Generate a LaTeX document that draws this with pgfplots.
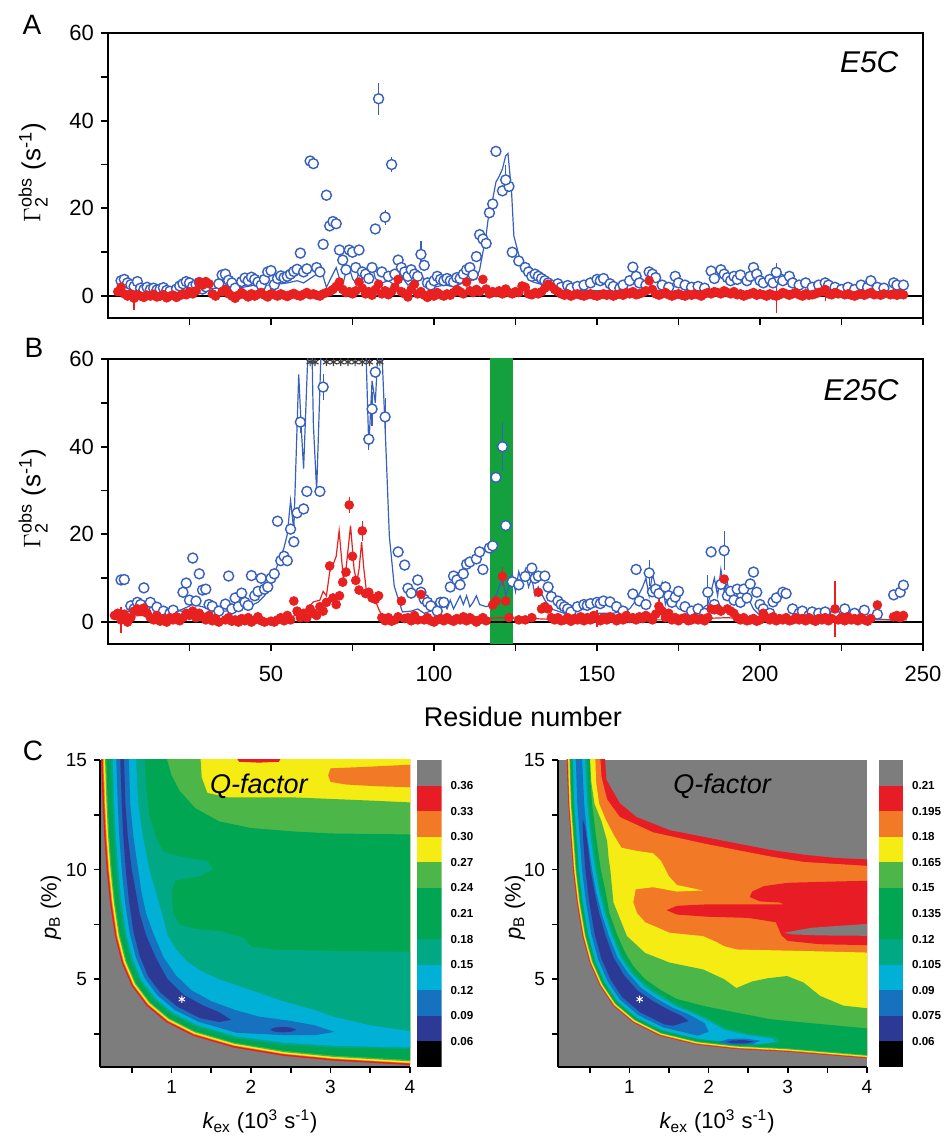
\documentclass[border=0pt]{standalone}
\usepackage{pgfplots}
\pgfplotsset{compat=1.18}
\usepackage{fontspec}
\setmainfont{Liberation Sans}

\definecolor{qgray}{RGB}{125,125,125}
\definecolor{qred}{RGB}{232,28,36}
\definecolor{qorange}{RGB}{242,122,38}
\definecolor{qyellow}{RGB}{245,236,20}
\definecolor{qlgreen}{RGB}{76,183,72}
\definecolor{qgreen}{RGB}{0,166,81}
\definecolor{qteal}{RGB}{0,168,132}
\definecolor{qcyan}{RGB}{0,176,214}
\definecolor{qblue}{RGB}{22,113,190}
\definecolor{qdblue}{RGB}{44,58,150}
\definecolor{ptblue}{RGB}{55,95,190}
\definecolor{ptred}{RGB}{232,32,32}
\definecolor{bandgreen}{RGB}{20,160,60}

\pgfplotsset{
  panel/.style={scale only axis, width=407.5pt, height=142.5pt,
    xmin=0, xmax=250, ymin=-5, ymax=60,
    xtick={25,50,...,250}, ytick={0,10,...,60}, yticklabels={0,,20,,40,,60},
    xtick pos=bottom, ytick pos=left, tick align=outside, major tick length=3.5pt,
    tick style={black, line width=0.9pt}, axis line style={line width=1pt},
    tick label style={font=\fontsize{11}{11}\selectfont},
    ylabel={$\Gamma_{\mbox{\fontsize{9}{9}\selectfont 2}}^{\mbox{\fontsize{9}{9}\selectfont obs}}$ (s\textsuperscript{-1})},
    ylabel style={font=\fontsize{13}{13}\selectfont, at={(axis description cs:-0.092,0.51)}, anchor=center},
  },
  bcirc/.style={only marks, mark=*, mark size=2.5pt, mark options={draw=ptblue, fill=white, line width=0.7pt}},
  rdot/.style={only marks, mark=*, mark size=2.2pt, mark options={draw=ptred, fill=ptred}},
  cstyle/.style={scale only axis, height=153.5pt,
    xmin=0.1, xmax=4, ymin=1, ymax=15, axis lines*=left,
    xtick={0.5,1,1.5,2,2.5,3,3.5,4}, xticklabels={,1,,2,,3,,4},
    ytick={2.5,5,7.5,10,12.5,15}, yticklabels={,5,,10,,15},
    tick align=outside, major tick length=3pt,
    tick style={black, line width=0.8pt}, axis line style={line width=1pt},
    tick label style={font=\fontsize{9.5}{9.5}\selectfont},
    axis background/.style={fill=qgray},
    xlabel={{\itshape k}\textsubscript{ex} (10\textsuperscript{3} s\textsuperscript{-1})},
    ylabel={{\itshape p}\textsubscript{B} (\%)},
    label style={font=\fontsize{11}{11}\selectfont},
  },
  cbar/.style={scale only axis, height=153.5pt, xmin=0, xmax=1, ymin=0, ymax=12,
    axis line style={draw=none}, xtick=\empty, ytick={1,...,11},
    yticklabel pos=right, major tick length=0pt, tick style={draw=none},
    yticklabel style={font=\fontsize{5.8}{6}\selectfont\bfseries, anchor=west, xshift=1pt},
  },
  reg/.style={draw=none, fill=#1},
}

\begin{document}
\begin{tikzpicture}
\useasboundingbox (0pt,0pt) rectangle (472.5pt,569pt);
\node[font=\fontsize{14}{14}\selectfont] at (16pt,556.5pt) {A};
\node[font=\fontsize{14}{14}\selectfont] at (17pt,395pt) {B};
\node[font=\fontsize{14}{14}\selectfont] at (16.5pt,193.5pt) {C};

% ---------------- panel A
\begin{axis}[panel, at={(54pt,410pt)}, anchor=south west, xticklabels={,,}]
\addplot[black, line width=0.8pt] coordinates {(0,0) (250,0)};
\addplot[ptblue, line width=0.6pt] coordinates {
(3,1.5) (5,2.0) (8,1.5) (10,1.0) (15,0.8) (20,1.0) (25,1.5) (30,1.5) (35,2.0) (40,1.8)
(45,2.5) (50,2.5) (55,3.0) (58,3.5) (60,3.0) (62,4.0) (64,5.0) (65,6.0) (66,4.5) (67,2.0)
(68,3.5) (70,6.5) (71,4.0) (72,2.5) (73,5.5) (74,6.5) (75,4.0) (76,3.0) (77,5.5) (78,4.0)
(80,6.5) (81,7.0) (82,4.0) (84,3.0) (86,3.5) (88,2.5) (90,4.5) (92,2.5) (94,3.5) (96,5.0)
(98,2.5) (100,2.0) (103,2.5) (106,2.2) (109,3.0) (111,3.5) (113,3.9) (114,6.0) (115,10.0)
(116,14.0) (117,19.8) (118,22.0) (119,26.0) (120,27.3) (121,29.0) (122,32.0) (122.7,32.5)
(123.8,23.6) (124.5,13.7) (125.8,10.0) (127.4,5.4) (130.4,3.2) (134.6,2.3) (140,1.5)
(150,1.2) (160,1.5) (170,1.0) (180,1.0) (190,1.2) (200,1.0) (210,0.8) (220,0.8) (230,0.6) (245,0.5)};
\addplot[bcirc] coordinates {
(4,3.5) (5,3.8) (6,3.0) (7,2.6) (8,2.2) (9,3.3) (10,1.8) (11,1.5) (12,2.0) (13,1.5)
(14,1.8) (15,1.4) (16,1.6) (17,1.9) (18,1.3) (19,1.1) (21,1.6) (22,2.3) (23,2.8) (24,3.3)
(25,3.0) (26,2.2) (27,2.6) (28,3.1) (29,1.6) (30,2.1) (34,2.8) (35,4.8) (36,5.0) (37,3.6)
(38,3.0) (39,1.8) (41,3.3) (42,4.1) (43,3.5) (44,4.3) (45,3.8) (46,3.2) (47,2.5) (48,3.8)
(49,5.5) (50,5.8) (51,2.6) (52,4.0) (53,4.6) (54,4.2) (55,4.5) (56,5.0) (57,5.6) (58,6.1)
(59,9.8) (60,5.5) (61,6.2) (62,30.8) (63,30.2) (64,6.5) (65,5.5) (66,11.8) (67,23.0) (68,16.0)
(69,17.0) (70,16.5) (71,10.5) (72,8.2) (73,6.0) (74,10.5) (75,10.0) (76,6.5) (77,10.5) (78,5.5)
(79,5.0) (80,4.0) (81,6.5) (82,15.3) (84,5.5) (86,4.5) (88,5.0) (89,8.2)
(90,6.5) (91,5.5) (92,4.5) (93,6.0) (94,5.0) (95,4.5) (97,7.0) (98,3.0) (99,2.5)
(100,3.5) (101,4.5) (102,3.8) (103,3.5) (104,4.0) (105,3.5) (106,3.2) (107,4.2) (108,4.0) (109,5.0)
(110,6.0) (111,6.5) (112,4.8) (113,9.0) (114,14.0) (115,13.0) (116,12.0) (117,19.0) (118,21.0) (119,33.0)
(121,24.0) (123,25.0) (124,10.0) (126,8.0) (128,6.5) (129,5.5) (130,4.5) (131,5.0) (132,4.5)
(133,4.0) (134,3.5) (135,3.0) (136,2.5) (138,2.8) (139,2.0) (141,2.4) (142,1.8) (144,2.2) (146,2.5)
(148,3.0) (150,3.8) (151,3.5) (152,4.0) (154,2.8) (155,2.2) (157,1.8) (158,2.5) (160,3.5) (161,6.6)
(162,4.5) (163,3.0) (165,2.5) (166,5.5) (167,5.0) (168,4.2) (170,2.5) (172,2.0) (174,4.5) (175,3.0)
(177,2.5) (179,2.0) (181,2.2) (183,1.8) (185,5.7) (186,4.0) (188,6.0) (189,5.0) (190,4.2) (191,3.5)
(192,4.5) (193,3.8) (194,4.8) (196,3.5) (197,4.5) (198,6.5) (199,5.0) (200,3.5) (201,3.0) (203,3.8)
(204,3.0) (206,4.0) (207,3.5) (209,4.5) (210,3.0) (212,2.5) (214,3.0) (216,2.0) (218,2.5)
(220,3.0) (221,2.5) (223,2.0) (225,1.5) (227,2.0) (229,1.5) (231,2.5) (233,2.0) (234,3.5) (236,2.0)
(238,1.8) (241,3.0) (242,2.5) (244,2.5)};
\addplot[bcirc, error bars/.cd, y dir=both, y explicit,
  error bar style={ptblue, line width=0.6pt}, error mark options={ptblue, mark size=2pt, line width=0.6pt}]
  coordinates {(83,45.0) +- (0,2.7) (85,18.0) +- (0,0.8) (87,30.0) +- (0,0.8) (96,9.5) +- (0,2.2)
  (122,26.5) +- (0,2.5) (205,5.4) +- (0,1.2)};
\addplot[rdot] coordinates {
(3,1.0) (4,2.0) (5,0.5) (6,0.0) (7,0.5) (9,0.3) (10,0.0) (11,-0.3) (12,0.2)
(13,0.0) (14,0.4) (15,-0.2) (16,0.0) (17,0.3) (18,-0.4) (19,0.0) (20,0.2) (21,-0.3) (22,0.1)
(23,0.5) (24,0.3) (25,1.0) (26,0.5) (27,1.2) (28,3.2) (29,2.5) (30,3.3) (31,2.8) (32,0.5)
(33,0.0) (35,1.0) (36,1.5) (37,0.5) (38,0.0) (39,-0.5) (40,0.2) (41,0.8) (42,0.3) (43,-0.2)
(44,0.5) (45,0.0) (46,0.4) (47,0.8) (48,0.2) (49,-0.2) (50,0.5) (51,0.3) (52,0.0) (53,0.5)
(54,0.2) (55,-0.1) (56,0.3) (57,0.6) (58,0.2) (59,0.0) (60,0.4) (61,0.8) (62,0.3) (63,0.5)
(64,0.2) (65,0.0) (66,0.5) (67,0.8) (68,1.0) (69,1.5) (70,2.2) (71,3.2) (72,1.5) (73,0.8)
(74,1.0) (75,0.5) (76,1.2) (77,3.2) (78,1.8) (79,0.5) (80,1.0) (81,0.2) (82,1.5) (83,2.7)
(84,0.5) (85,1.2) (86,0.3) (87,1.0) (88,2.0) (90,1.0) (91,0.5) (92,-0.2) (93,1.5)
(94,2.7) (95,0.5) (96,1.0) (97,0.2) (98,-0.3) (99,0.5) (100,0.0) (101,0.8) (102,0.3) (103,0.0)
(104,0.5) (105,0.2) (106,0.8) (107,1.5) (108,1.0) (109,0.5) (110,3.2) (111,1.2) (112,0.8) (113,1.5)
(114,1.0) (115,3.8) (116,1.6) (117,0.5) (118,1.0) (119,0.8) (120,1.2) (121,0.5) (122,1.6) (123,0.8)
(124,0.5) (125,1.0) (126,0.8) (127,2.3) (128,2.0) (129,0.5) (130,0.3) (131,0.8) (132,0.5) (133,1.0)
(134,1.8) (135,2.7) (136,2.2) (137,1.5) (138,1.0) (139,0.5) (140,0.2) (141,0.5) (142,0.0) (143,0.3)
(144,0.5) (145,0.2) (146,0.0) (147,0.3) (148,0.5) (149,0.2) (150,0.0) (151,0.3) (152,0.5) (153,0.2)
(154,0.4) (155,0.0) (156,0.3) (157,0.5) (158,0.2) (159,0.8) (160,0.5) (161,1.0) (162,0.3) (163,0.5)
(164,0.8) (165,1.2) (167,1.5) (168,0.5) (169,0.2) (170,0.5) (171,0.8) (172,0.3) (173,0.0)
(174,0.3) (175,0.5) (176,0.2) (177,0.0) (178,0.4) (179,0.2) (180,0.5) (181,0.3) (182,0.0) (183,0.5)
(184,0.8) (185,0.5) (186,1.0) (187,0.8) (188,0.5) (189,1.2) (190,0.8) (191,0.5) (192,1.0) (193,0.3)
(194,0.5) (195,0.0) (196,0.3) (197,0.5) (198,0.8) (199,0.2) (200,0.5) (201,0.3) (202,0.0) (203,0.5)
(204,0.2) (206,0.3) (207,0.8) (208,0.5) (209,0.2) (210,0.5) (211,0.8) (212,0.3) (213,0.0)
(214,0.5) (215,0.2) (216,0.3) (217,0.5) (218,0.8) (219,1.0) (221,0.5) (222,0.3) (223,0.8)
(224,0.5) (226,0.3) (227,0.5) (228,0.2) (229,0.0) (230,0.3) (231,0.5) (232,0.2) (233,0.5) (234,0.8)
(235,0.3) (237,0.2) (238,0.5) (240,0.3) (241,0.5) (242,0.2) (243,0.5) (244,0.3)};
\addplot[rdot, error bars/.cd, y dir=both, y explicit,
  error bar style={ptred, line width=0.6pt}, error mark options={ptred, mark size=2pt, line width=0.6pt}]
  coordinates {(8,-0.5) +- (0,1.8) (89,3.8) +- (0,1.0) (166,3.5) +- (0,1.3) (205,0.0) +- (0,3.0) (220,1.5) +- (0,1.8)};
\node[font=\fontsize{15}{15}\selectfont\itshape] at (axis cs:233.5,53.4) {E5C};
\end{axis}

% ---------------- panel B
\begin{axis}[panel, at={(54pt,247pt)}, anchor=south west,
  xticklabels={,50,,100,,150,,200,,250},
  xticklabel style={yshift=-4pt},
  xlabel={Residue number},
  xlabel style={font=\fontsize{13.5}{13.5}\selectfont, at={(axis description cs:0.509,-0.257)}, anchor=center}]
\addplot[reg=bandgreen] coordinates {(117.2,-6) (124.2,-6) (124.2,61) (117.2,61)};
\addplot[black, line width=0.8pt] coordinates {(0,0) (250,0)};
\addplot[ptblue, line width=0.6pt] coordinates {
(3,1.5) (5,2.0) (8,3.0) (10,3.5) (13,2.5) (16,2.0) (20,2.0) (23,3.0) (26,4.0) (29,3.5)
(32,2.5) (36,2.5) (40,3.0) (43,3.5) (46,4.5) (48,6.0) (50,8.0) (51,11.0) (52,13.0) (53,14.8)
(54,17.0) (55,20.0) (56,27.7) (57,21.0) (58.5,56.5) (59.3,44.0) (60,35.0) (61.5,65.0) (62.5,65.0)
(63,45.0) (64,30.0) (65.5,65.0) (79,65.0) (80,40.0) (81,55.0) (82,50.0) (83,65.0) (84,62.0)
(85.3,38.8) (86.3,19.6) (87.8,8.2) (90.3,2.3) (93,2.5) (95,3.0) (97,2.0) (99,2.5) (101,3.5)
(102,2.5) (103,4.5) (104,3.0) (105,5.0) (106,3.0) (107,4.5) (108,6.0) (109,4.0) (110,6.0)
(111,3.5) (112,4.5) (113,6.0) (114,4.0) (116,3.5) (118,4.0) (119,6.0) (120,8.0) (121,10.0)
(122,6.0) (123,8.0) (124,11.0) (125,7.0) (126,11.5) (127,9.0) (128,12.0) (129,8.0) (130,10.0)
(131,6.0) (132,8.0) (134,5.0) (136,3.0) (140,2.0) (145,1.5) (150,2.0) (155,2.0) (160,3.0)
(162,5.0) (164,8.0) (165,10.0) (166,6.0) (167,11.0) (168,8.0) (169,7.0) (170,9.0) (171,4.0)
(172,6.0) (175,3.0) (180,2.0) (184,4.0) (186,10.0) (187,6.0) (188,12.0) (189,7.0) (190,9.0)
(191,5.0) (192,8.0) (194,4.0) (196,6.0) (198,3.0) (200,1.5) (205,1.0) (210,1.2) (220,0.8)
(230,1.0) (240,0.5) (245,0.5)};
\addplot[ptred, line width=0.6pt] coordinates {
(2,1.0) (10,1.5) (20,1.0) (30,1.0) (40,0.5) (50,0.5) (55,1.0) (60,2.0) (63,4.6) (65,5.0)
(66,7.0) (67,6.0) (68,11.4) (69,13.0) (70,15.0) (70.9,20.8) (72.2,9.8) (73,12.0) (74.4,22.0)
(75.5,12.0) (76.3,9.1) (77,12.0) (77.8,18.2) (78.5,12.0) (79.3,6.8) (80,6.5) (81,6.0) (82,5.0)
(83,3.0) (84,1.5) (86,1.0) (90,0.5) (100,0.5) (110,0.5) (120,1.0) (130,0.8) (140,0.5)
(150,0.5) (170,0.5) (190,1.0) (200,0.5) (220,0.5) (245,0.5)};
\addplot[bcirc] coordinates {
(4,9.6) (5,9.7) (7,3.7) (8,3.0) (9,4.5) (10,4.0) (11,7.8) (12,3.0) (13,4.5) (14,2.5)
(15,3.4) (17,2.5) (19,2.0) (20,2.7) (22,1.5) (23,6.8) (24,8.9) (25,5.0) (26,14.6) (27,4.8)
(28,11.0) (29,7.3) (30,7.5) (31,4.0) (32,3.6) (34,2.5) (36,4.1) (37,10.5) (38,3.0) (39,5.5)
(40,3.5) (41,6.6) (42,4.5) (43,3.8) (44,10.6) (45,6.0) (46,7.0) (47,10.0) (48,7.5) (49,8.0)
(50,10.0) (51,11.0) (52,23.0) (53,14.0) (54,15.0) (55,14.0) (56,21.2) (57,18.3) (58,24.9)
(60,25.8) (61,29.8) (65,29.8) (82,57.0) (89,16.0) (91,13.0) (92,7.7) (93,6.6) (95,9.6)
(96,6.8) (97,5.2) (98,4.5) (99,3.7) (101,2.5) (102,4.5) (103,4.5) (105,8.0) (106,10.5) (107,9.6)
(108,8.5) (109,11.0) (110,13.2) (111,13.7) (113,14.4) (114,16.0) (115,12.0) (117,16.9) (118,17.4) (119,33.0)
(122,22.0) (124,9.2) (126,8.5) (128,10.4) (130,12.3) (131,10.0) (132,10.5) (134,10.5) (135,8.0)
(136,5.8) (138,4.8) (139,4.0) (140,3.5) (141,3.0) (142,2.3) (144,3.5) (146,4.0) (147,3.8) (148,4.2)
(150,4.5) (151,4.2) (152,4.8) (154,4.6) (156,3.5) (158,2.5) (161,6.4) (162,12.0) (163,4.8) (165,4.0)
(167,6.9) (168,7.5) (169,6.5) (171,8.0) (172,6.0) (173,4.5) (174,5.7) (175,7.0) (177,3.5)
(179,2.5) (181,3.0) (183,2.0) (185,16.0) (186,4.0) (188,8.6) (190,6.0) (191,7.0) (192,5.0)
(193,7.5) (194,4.5) (195,7.5) (196,5.5) (197,8.7) (198,11.4) (199,6.8) (200,4.0) (201,3.0) (203,2.0)
(204,4.6) (205,5.5) (207,6.8) (208,6.5) (210,3.0) (212,2.0) (213,2.5) (215,1.5) (216,2.3) (218,2.0)
(220,2.3) (223,1.8) (226,3.0) (229,2.0) (232,2.7) (236,1.8) (241,6.2) (243,6.8) (244,8.4)};
\addplot[bcirc, error bars/.cd, y dir=both, y explicit,
  error bar style={ptblue, line width=0.6pt}, error mark options={ptblue, mark size=2pt, line width=0.6pt}]
  coordinates {(59,45.6) +- (0,1.5) (66,53.6) +- (0,2.0) (80,41.7) +- (0,1.5) (81,48.6) +- (0,3.0)
  (85,46.8) +- (0,3.5) (121,40.0) +- (0,4.7) (166,11.2) +- (0,2.0) (184,6.8) +- (0,3.0) (189,16.3) +- (0,3.5)};
\addplot[rdot] coordinates {
(2,1.5) (3,2.0) (5,1.8) (6,0.0) (7,1.0) (8,2.5) (9,3.0) (10,2.5) (11,3.2) (12,2.0)
(13,1.0) (14,0.5) (15,1.5) (16,0.2) (17,0.8) (18,0.0) (19,1.0) (20,0.5) (21,1.2) (22,0.3)
(23,1.0) (24,2.0) (25,1.5) (26,2.5) (27,1.0) (28,2.0) (29,1.2) (30,0.5) (31,1.5) (32,0.3)
(33,0.8) (34,0.0) (36,0.5) (37,1.0) (38,0.2) (39,0.5) (40,0.0) (41,0.8) (42,0.3) (43,1.0)
(44,0.0) (45,0.5) (46,1.2) (47,0.3) (48,0.0) (50,0.2) (51,0.0) (52,0.5) (53,1.0) (54,0.3)
(55,1.5) (56,0.5) (57,4.8) (58,2.5) (59,1.0) (60,2.0) (61,1.0) (62,3.0) (63,2.0) (64,1.5)
(65,3.5) (66,2.5) (67,4.5) (68,12.8) (69,5.5) (70,4.0) (71,6.0) (72,9.1) (73,11.4)
(75,15.0) (76,9.5) (77,7.3) (79,6.5) (80,6.8) (81,5.5) (82,5.2) (83,6.0) (84,1.0)
(85,0.3) (86,1.0) (87,0.2) (88,0.5) (89,1.2) (90,4.8) (91,0.8) (92,1.0) (93,0.3) (94,1.5)
(95,0.5) (96,6.3) (97,0.5) (98,1.0) (99,0.3) (100,0.0) (101,0.5) (102,0.8) (103,0.3) (104,1.0)
(105,0.5) (106,0.2) (107,0.8) (108,0.5) (109,1.2) (110,0.3) (111,1.0) (112,0.5) (113,0.0) (114,0.5)
(115,1.0) (116,0.3) (118,3.9) (119,4.8) (122,4.8) (123,1.0) (126,0.5) (128,0.5) (130,1.0)
(132,6.8) (133,3.0) (134,3.5) (135,3.0) (136,1.0) (137,0.5) (138,1.0) (139,0.3) (140,0.5) (141,1.0)
(142,0.2) (143,0.8) (144,0.5) (145,1.2) (146,0.3) (147,1.0) (148,0.5) (149,1.5) (151,0.3)
(152,1.0) (153,0.5) (154,1.2) (155,0.8) (156,0.3) (157,1.0) (158,0.5) (159,1.5) (160,0.8) (161,1.0)
(162,0.5) (163,1.2) (164,0.8) (165,1.5) (166,1.0) (167,0.5) (168,1.8) (170,2.5) (171,1.0)
(172,2.0) (173,0.5) (174,1.0) (175,0.3) (176,0.8) (177,1.0) (178,0.3) (179,0.5) (180,1.0) (181,0.5)
(182,0.8) (183,0.3) (184,1.0) (185,3.0) (186,2.8) (187,3.0) (188,2.5) (189,9.8) (190,3.0) (191,2.5)
(192,2.0) (193,1.0) (194,0.5) (195,1.0) (196,0.3) (197,0.5) (198,0.8) (199,0.2) (200,0.5) (201,2.0)
(202,1.0) (203,0.5) (204,1.2) (205,0.3) (206,0.8) (207,0.5) (208,1.0) (209,0.3) (210,0.5) (211,1.0)
(212,0.5) (213,0.8) (214,0.3) (215,1.0) (216,0.5) (217,0.2) (218,0.8) (219,0.5) (220,1.0) (221,0.3)
(222,0.8) (224,0.5) (225,1.0) (226,0.3) (227,1.2) (228,0.5) (229,0.8) (230,0.3) (231,1.0)
(232,0.5) (233,0.2) (234,0.8) (236,3.9) (241,1.2) (242,1.5) (243,1.0) (244,1.5)};
\addplot[rdot, error bars/.cd, y dir=both, y explicit,
  error bar style={ptred, line width=0.6pt}, error mark options={ptred, mark size=2pt, line width=0.6pt}]
  coordinates {(4,0.5) +- (0,2.0) (74,26.7) +- (0,1.0) (78,20.8) +- (0,1.3) (121,10.4) +- (0,1.3)
  (150,0.8) +- (0,1.0) (169,3.6) +- (0,1.0) (223,3.0) +- (0,5.5)};
\addplot[only marks, mark=asterisk, mark size=2pt, mark options={black!75, line width=0.6pt}] coordinates {
(62,59.3) (63.5,59.3) (67,59.3) (69.2,59.3) (71.4,59.3) (73.6,59.3) (75.8,59.3) (78,59.3) (80.2,59.3) (83.4,59.3)};
\node[font=\fontsize{15}{15}\selectfont\itshape] at (axis cs:231,52.9) {E25C};
\end{axis}

% ---------------- panel C, left map
\begin{axis}[cstyle, at={(50pt,35.5pt)}, anchor=south west, width=155pt,
  ylabel style={at={(axis description cs:-0.158,0.52)}, anchor=center},
  xlabel style={at={(axis description cs:0.516,-0.178)}, anchor=center}]
\addplot[reg=qred] coordinates {(0.112,15.3) (0.113,15.0) (0.134,13.03) (0.154,11.51) (0.184,10.0) (0.226,8.49) (0.289,6.97) (0.373,5.76) (0.499,4.70) (0.688,3.79) (0.940,3.03) (1.275,2.42) (1.778,1.89) (2.407,1.51) (3.036,1.29) (4.0,1.09) (4.1,1.07) (4.1,15.3)};
\addplot[reg=qorange] coordinates {(0.132,15.3) (0.153,13.03) (0.173,11.51) (0.203,10.0) (0.245,8.50) (0.307,6.98) (0.391,5.78) (0.515,4.73) (0.702,3.84) (0.950,3.09) (1.282,2.48) (1.782,1.96) (2.409,1.58) (3.037,1.36) (4.0,1.16) (4.1,1.15) (4.1,15.3)};
\addplot[reg=qyellow] coordinates {(0.142,15.3) (0.163,13.03) (0.183,11.51) (0.213,10.01) (0.255,8.50) (0.317,6.99) (0.401,5.79) (0.524,4.75) (0.709,3.86) (0.956,3.12) (1.285,2.52) (1.784,1.99) (2.411,1.61) (3.038,1.39) (4.0,1.19) (4.1,1.18) (4.1,15.3)};
\addplot[reg=qorange] coordinates {(2.97,14.3) (3.0,14.62) (3.4,14.68) (3.8,14.75) (4.1,14.8) (4.1,13.75) (3.6,13.8) (3.2,13.88) (3.0,14.0)};
\addplot[reg=qred] coordinates {(1.78,15.3) (2.41,15.3) (2.35,14.92) (2.1,14.88) (1.85,14.92)};
\addplot[reg=qlgreen] coordinates {(0.161,15.3) (0.182,13.03) (0.202,11.52) (0.232,10.01) (0.274,8.51) (0.336,7.0) (0.419,5.82) (0.540,4.79) (0.723,3.91) (0.966,3.18) (1.292,2.58) (1.789,2.06) (2.413,1.68) (3.039,1.46) (4.0,1.26) (4.1,1.25) (4.1,13.05) (3.5,13.15) (2.5,13.3) (1.7,13.3) (1.45,13.5) (1.38,14.2) (1.36,15.3)};
\addplot[reg=qgreen] coordinates {(0.176,15.3) (0.197,13.03) (0.217,11.52) (0.247,10.01) (0.289,8.51) (0.351,7.01) (0.433,5.83) (0.554,4.81) (0.734,3.95) (0.974,3.22) (1.297,2.63) (1.792,2.11) (2.415,1.74) (3.040,1.52) (4.0,1.32) (4.1,1.31) (4.1,11.6) (3.0,11.65) (2.5,11.75) (2.0,11.9) (1.6,12.2) (1.3,12.8) (1.1,13.6) (1.0,14.3) (0.92,15.3)};
\addplot[reg=qteal] coordinates {(0.233,15.3) (0.254,13.04) (0.274,11.52) (0.304,10.02) (0.345,8.53) (0.406,7.05) (0.487,5.90) (0.603,4.92) (0.774,4.09) (1.005,3.39) (1.317,2.83) (1.805,2.31) (2.425,2.0) (3.048,1.88) (4.01,1.82) (4.1,1.81) (4.1,6.25) (3.0,6.3) (2.3,6.35) (2.0,6.5) (1.9,6.9) (1.6,7.2) (1.3,7.3) (1.1,7.5) (1.02,8.0) (1.0,9.0) (1.05,9.5) (1.35,9.7) (1.52,10.0) (1.45,10.4) (1.1,10.6) (0.9,10.8) (0.8,11.5) (0.72,12.5) (0.68,13.8) (0.66,15.3)};
\addplot[reg=qcyan] coordinates {(0.258,15.3) (0.279,13.04) (0.299,11.53) (0.329,10.03) (0.370,8.54) (0.430,7.07) (0.511,5.93) (0.624,4.96) (0.793,4.15) (1.018,3.47) (1.326,2.91) (1.810,2.40) (2.428,2.10) (3.050,1.97) (4.01,1.89) (4.1,1.88) (4.1,2.58) (3.5,2.9) (3.03,3.3) (2.8,3.6) (2.4,4.0) (2.0,4.5) (1.6,5.0) (1.36,5.4) (1.2,5.8) (1.05,6.4) (0.95,7.0) (0.88,8.0) (0.80,9.0) (0.72,10.0) (0.64,11.5) (0.58,13.0) (0.55,15.3)};
\addplot[reg=qblue] coordinates {(0.302,15.3) (0.323,13.04) (0.343,11.53) (0.373,10.03) (0.414,8.56) (0.474,7.10) (0.553,5.98) (0.663,5.04) (0.825,4.26) (1.042,3.60) (1.341,3.06) (1.820,2.56) (2.44,2.45) (2.8,2.45) (3.05,2.6) (2.8,2.9) (2.5,3.1) (2.1,3.3) (1.8,3.6) (1.5,4.0) (1.25,4.5) (1.05,5.2) (0.9,6.0) (0.78,7.0) (0.68,8.0) (0.62,9.0) (0.58,10.0) (0.52,11.5) (0.48,13.0) (0.46,15.3)};
\addplot[reg=qdblue] coordinates {(0.352,15.3) (0.373,13.05) (0.393,11.54) (0.423,10.04) (0.464,8.58) (0.523,7.13) (0.601,6.04) (0.706,5.13) (0.861,4.39) (1.069,3.76) (1.359,3.23) (1.6,3.05) (1.75,3.15) (1.6,3.5) (1.4,3.8) (1.15,4.3) (0.95,5.0) (0.8,6.0) (0.68,7.0) (0.6,8.0) (0.55,9.0) (0.5,10.0) (0.45,11.5) (0.42,13.0) (0.40,15.3)};
\addplot[reg=qdblue] coordinates {(2.24,2.7) (2.3,2.8) (2.4,2.83) (2.5,2.8) (2.57,2.7) (2.5,2.6) (2.4,2.58) (2.3,2.61)};
\addplot[only marks, mark=asterisk, mark size=1.8pt, mark options={white, line width=0.5pt}] coordinates {(1.13,4.09)};
\node[font=\fontsize{13.5}{13.5}\selectfont\itshape] at (axis cs:2.1,13.8) {Q-factor};
\end{axis}

\begin{axis}[cbar, at={(208.3pt,35.5pt)}, anchor=south west, width=12.5pt,
  yticklabels={0.06,0.09,0.12,0.15,0.18,0.21,0.24,0.27,0.30,0.33,0.36}]
\addplot[reg=black] coordinates {(0,0) (1,0) (1,1) (0,1)};
\addplot[reg=qdblue] coordinates {(0,1) (1,1) (1,2) (0,2)};
\addplot[reg=qblue] coordinates {(0,2) (1,2) (1,3) (0,3)};
\addplot[reg=qcyan] coordinates {(0,3) (1,3) (1,4) (0,4)};
\addplot[reg=qteal] coordinates {(0,4) (1,4) (1,5) (0,5)};
\addplot[reg=qgreen] coordinates {(0,5) (1,5) (1,7) (0,7)};
\addplot[reg=qlgreen] coordinates {(0,7) (1,7) (1,8) (0,8)};
\addplot[reg=qyellow] coordinates {(0,8) (1,8) (1,9) (0,9)};
\addplot[reg=qorange] coordinates {(0,9) (1,9) (1,10) (0,10)};
\addplot[reg=qred] coordinates {(0,10) (1,10) (1,11) (0,11)};
\addplot[reg=qgray] coordinates {(0,11) (1,11) (1,12) (0,12)};
\end{axis}

% ---------------- panel C, right map
\begin{axis}[cstyle, at={(279pt,35.5pt)}, anchor=south west, width=154.5pt,
  ylabel style={at={(axis description cs:-0.139,0.52)}, anchor=center},
  xlabel style={at={(axis description cs:0.515,-0.178)}, anchor=center}]
\addplot[reg=qred] coordinates {(0.21,15.3) (0.21,15.0) (0.23,13.03) (0.26,11.52) (0.29,10.0) (0.34,8.48) (0.41,6.97) (0.50,5.76) (0.63,4.70) (0.80,3.79) (1.05,3.03) (1.39,2.42) (1.85,2.02) (2.35,1.82) (2.99,1.70) (4.0,1.40) (4.1,1.38) (4.1,10.45) (3.62,10.53) (3.2,10.68) (2.78,10.9) (2.35,11.2) (1.93,11.5) (1.51,11.8) (1.09,12.4) (0.88,13.03) (0.71,14.1) (0.69,15.3)};
\addplot[reg=qorange] coordinates {(0.219,15.3) (0.239,13.03) (0.269,11.52) (0.299,10.0) (0.349,8.48) (0.419,6.98) (0.508,5.77) (0.638,4.72) (0.806,3.81) (1.055,3.06) (1.393,2.45) (1.851,2.05) (2.351,1.85) (2.99,1.73) (4.0,1.43) (4.1,1.41) (4.1,10.15) (3.2,10.35) (2.78,10.6) (2.35,10.9) (1.93,11.2) (1.3,11.7) (0.88,12.4) (0.72,13.2) (0.65,14.2) (0.63,15.3)};
\addplot[reg=qred] coordinates {(4.1,9.5) (3.5,9.45) (3.0,9.4) (2.7,9.25) (2.55,9.0) (2.52,8.75) (2.65,8.55) (2.9,8.5) (2.95,8.42) (2.5,8.42) (2.0,8.42) (1.6,8.35) (1.47,8.15) (1.6,7.95) (2.0,7.85) (2.5,7.8) (2.85,7.6) (2.92,7.0) (3.0,6.75) (3.4,6.6) (4.1,6.55)};
\addplot[reg=qgray] coordinates {(2.95,7.12) (3.3,7.35) (4.1,7.55) (4.1,6.98) (3.4,7.0) (3.05,7.05)};
\addplot[reg=qyellow] coordinates {(0.226,15.3) (0.246,13.03) (0.276,11.52) (0.306,10.0) (0.356,8.49) (0.426,6.98) (0.516,5.78) (0.644,4.73) (0.812,3.83) (1.059,3.08) (1.395,2.48) (1.852,2.08) (2.351,1.88) (2.991,1.76) (4.0,1.46) (4.1,1.44) (4.1,6.21) (3.2,6.29) (2.35,6.36) (2.19,6.52) (2.1,6.7) (1.93,6.97) (1.51,7.12) (1.2,7.6) (1.1,8.0) (1.05,8.5) (1.08,9.1) (1.3,9.2) (1.6,9.0) (1.93,9.05) (1.6,9.3) (1.5,9.7) (1.4,10.4) (1.3,10.75) (1.1,10.85) (0.9,11.0) (0.8,11.6) (0.7,12.3) (0.62,13.0) (0.58,14.0) (0.57,15.3)};
\addplot[reg=qlgreen] coordinates {(0.242,15.3) (0.262,13.03) (0.292,11.52) (0.322,10.0) (0.371,8.49) (0.441,6.99) (0.53,5.80) (0.657,4.76) (0.823,3.87) (1.067,3.13) (1.40,2.53) (1.854,2.13) (2.352,1.93) (2.992,1.81) (4.0,1.51) (4.1,1.49) (4.1,3.64) (3.7,3.8) (3.41,4.24) (3.2,4.85) (2.99,5.15) (2.75,5.05) (2.55,4.9) (2.35,4.6) (2.2,5.0) (1.93,5.45) (1.51,5.76) (1.2,6.2) (0.97,6.97) (0.80,8.5) (0.76,10.0) (0.74,10.5) (0.72,11.3) (0.65,12.2) (0.56,13.0) (0.52,14.0) (0.50,15.3)};
\addplot[reg=qgreen] coordinates {(0.252,15.3) (0.272,13.03) (0.302,11.52) (0.332,10.0) (0.381,8.49) (0.451,7.0) (0.540,5.81) (0.666,4.77) (0.830,3.89) (1.072,3.16) (1.403,2.56) (1.855,2.17) (2.353,1.97) (2.992,1.85) (4.0,1.55) (4.1,1.53) (4.1,2.73) (3.2,3.03) (2.78,3.18) (2.35,3.48) (1.93,3.79) (1.6,4.1) (1.4,4.5) (1.2,5.0) (1.05,5.6) (0.95,6.2) (0.85,7.0) (0.75,8.0) (0.70,9.0) (0.64,10.0) (0.58,11.5) (0.53,13.0) (0.51,14.0) (0.50,15.3)};
\addplot[reg=qteal] coordinates {(0.28,15.3) (0.30,13.04) (0.33,11.53) (0.36,10.01) (0.409,8.51) (0.478,7.02) (0.566,5.84) (0.69,4.83) (0.85,3.96) (1.087,3.24) (1.412,2.66) (1.858,2.27) (2.354,2.07) (2.6,2.0) (2.9,2.15) (2.85,2.36) (2.5,2.52) (2.23,2.75) (2.03,3.15) (1.83,3.5) (1.63,3.8) (1.43,4.2) (1.23,4.7) (1.05,5.3) (0.92,6.0) (0.80,7.0) (0.71,8.0) (0.64,9.0) (0.59,10.0) (0.53,11.5) (0.49,13.0) (0.46,15.3)};
\addplot[reg=qcyan] coordinates {(0.286,15.3) (0.306,13.04) (0.336,11.53) (0.366,10.01) (0.415,8.51) (0.484,7.02) (0.572,5.85) (0.695,4.84) (0.855,3.98) (1.091,3.26) (1.414,2.68) (1.859,2.29) (2.355,2.09) (2.6,2.03) (2.85,2.15) (2.8,2.3) (2.5,2.45) (2.2,2.7) (2.0,3.1) (1.8,3.45) (1.6,3.75) (1.4,4.15) (1.2,4.65) (1.02,5.3) (0.89,6.0) (0.78,7.0) (0.69,8.0) (0.62,9.0) (0.57,10.0) (0.51,11.5) (0.47,13.0) (0.44,15.3)};
\addplot[reg=qblue] coordinates {(0.323,15.3) (0.343,13.04) (0.373,11.53) (0.403,10.01) (0.453,8.52) (0.521,7.05) (0.608,5.89) (0.728,4.90) (0.882,4.07) (1.111,3.37) (1.426,2.81) (1.864,2.43) (2.0,2.6) (1.95,3.0) (1.75,3.4) (1.55,3.7) (1.35,4.1) (1.15,4.6) (0.98,5.3) (0.85,6.0) (0.74,7.0) (0.65,8.0) (0.58,9.0) (0.53,10.0) (0.47,11.5) (0.43,13.0) (0.40,15.3)};
\addplot[reg=qdblue] coordinates {(0.41,12.3) (0.44,12.0) (0.48,11.0) (0.51,10.0) (0.56,9.0) (0.62,8.0) (0.70,7.0) (0.80,6.0) (0.93,5.2) (1.1,4.5) (1.3,4.0) (1.5,3.6) (1.65,3.35) (1.75,3.1) (1.55,2.88) (1.439,2.95) (1.134,3.50) (0.912,4.18) (0.764,4.98) (0.648,5.94) (0.561,7.08) (0.494,8.54) (0.445,10.01) (0.415,11.53)};
\addplot[reg=qblue] coordinates {(2.12,2.12) (2.25,2.28) (2.45,2.3) (2.65,2.2) (2.55,2.03) (2.3,2.02)};
\addplot[reg=qdblue] coordinates {(2.22,2.14) (2.3,2.21) (2.45,2.23) (2.57,2.16) (2.48,2.08) (2.3,2.08)};
\addplot[only marks, mark=asterisk, mark size=1.8pt, mark options={white, line width=0.5pt}] coordinates {(1.13,4.09)};
\node[font=\fontsize{13.5}{13.5}\selectfont\itshape] at (axis cs:2.17,13.8) {Q-factor};
\end{axis}

\begin{axis}[cbar, at={(439.5pt,35.5pt)}, anchor=south west, width=12pt,
  yticklabels={0.06,0.075,0.09,0.105,0.12,0.135,0.15,0.165,0.18,0.195,0.21}]
\addplot[reg=black] coordinates {(0,0) (1,0) (1,1) (0,1)};
\addplot[reg=qdblue] coordinates {(0,1) (1,1) (1,2) (0,2)};
\addplot[reg=qblue] coordinates {(0,2) (1,2) (1,3) (0,3)};
\addplot[reg=qcyan] coordinates {(0,3) (1,3) (1,4) (0,4)};
\addplot[reg=qteal] coordinates {(0,4) (1,4) (1,5) (0,5)};
\addplot[reg=qgreen] coordinates {(0,5) (1,5) (1,7) (0,7)};
\addplot[reg=qlgreen] coordinates {(0,7) (1,7) (1,8) (0,8)};
\addplot[reg=qyellow] coordinates {(0,8) (1,8) (1,9) (0,9)};
\addplot[reg=qorange] coordinates {(0,9) (1,9) (1,10) (0,10)};
\addplot[reg=qred] coordinates {(0,10) (1,10) (1,11) (0,11)};
\addplot[reg=qgray] coordinates {(0,11) (1,11) (1,12) (0,12)};
\end{axis}
\end{tikzpicture}
\end{document}
